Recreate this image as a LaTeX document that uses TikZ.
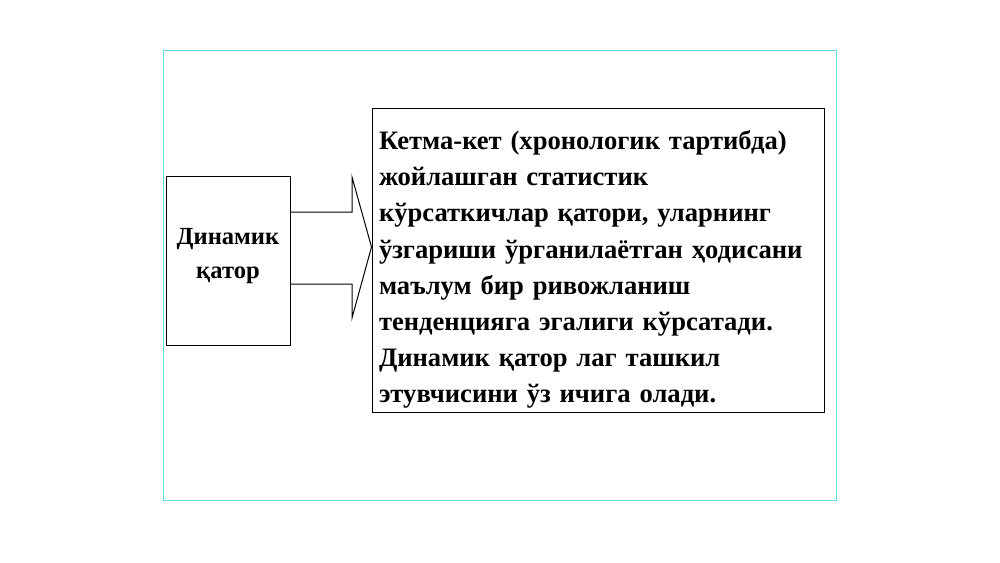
\documentclass[tikz,border=0pt]{standalone}
\usepackage{fontspec}
\setmainfont{Liberation Serif}
\definecolor{framecyan}{RGB}{95,220,228}
\begin{document}
\begin{tikzpicture}[x=1pt, y=-1pt,
    every node/.style={font=\bfseries\fontsize{26.6}{36.1}\selectfont}]
    \useasboundingbox (0,0) rectangle (1000,562);
    \draw[framecyan, line width=0.9pt] (163,50) rectangle (836,500);
    \node[shape=rectangle,draw=black,line width=1pt,minimum width=124pt,minimum height=169pt,inner sep=0pt,align=center,font=\bfseries\fontsize{24.6}{34}\selectfont] (L) at (228,260.5) {Динамик\\қатор\rule[-14pt]{0pt}{0pt}};
    \node[shape=rectangle,draw=black,line width=1pt,minimum width=452pt,minimum height=304pt,text width=438pt,inner xsep=7pt,align=left] (R) at (598,260) {\rule{0pt}{38pt}Кетма-кет (хронологик тартибда)\\жойлашган статистик\\кўрсаткичлар қатори, уларнинг\\ўзгариши ўрганилаётган ҳодисани\\маълум бир ривожланиш\\тенденцияга эгалиги кўрсатади.\\Динамик қатор лаг ташкил\\этувчисини ўз ичига олади.};
    \draw[line width=1pt] (L.east |- 0,212) -- (352,212) -- (352,177) -- (R.west |- 0,247)
        -- (352,318) -- (352,284) -- (L.east |- 0,284);
\end{tikzpicture}
\end{document}
